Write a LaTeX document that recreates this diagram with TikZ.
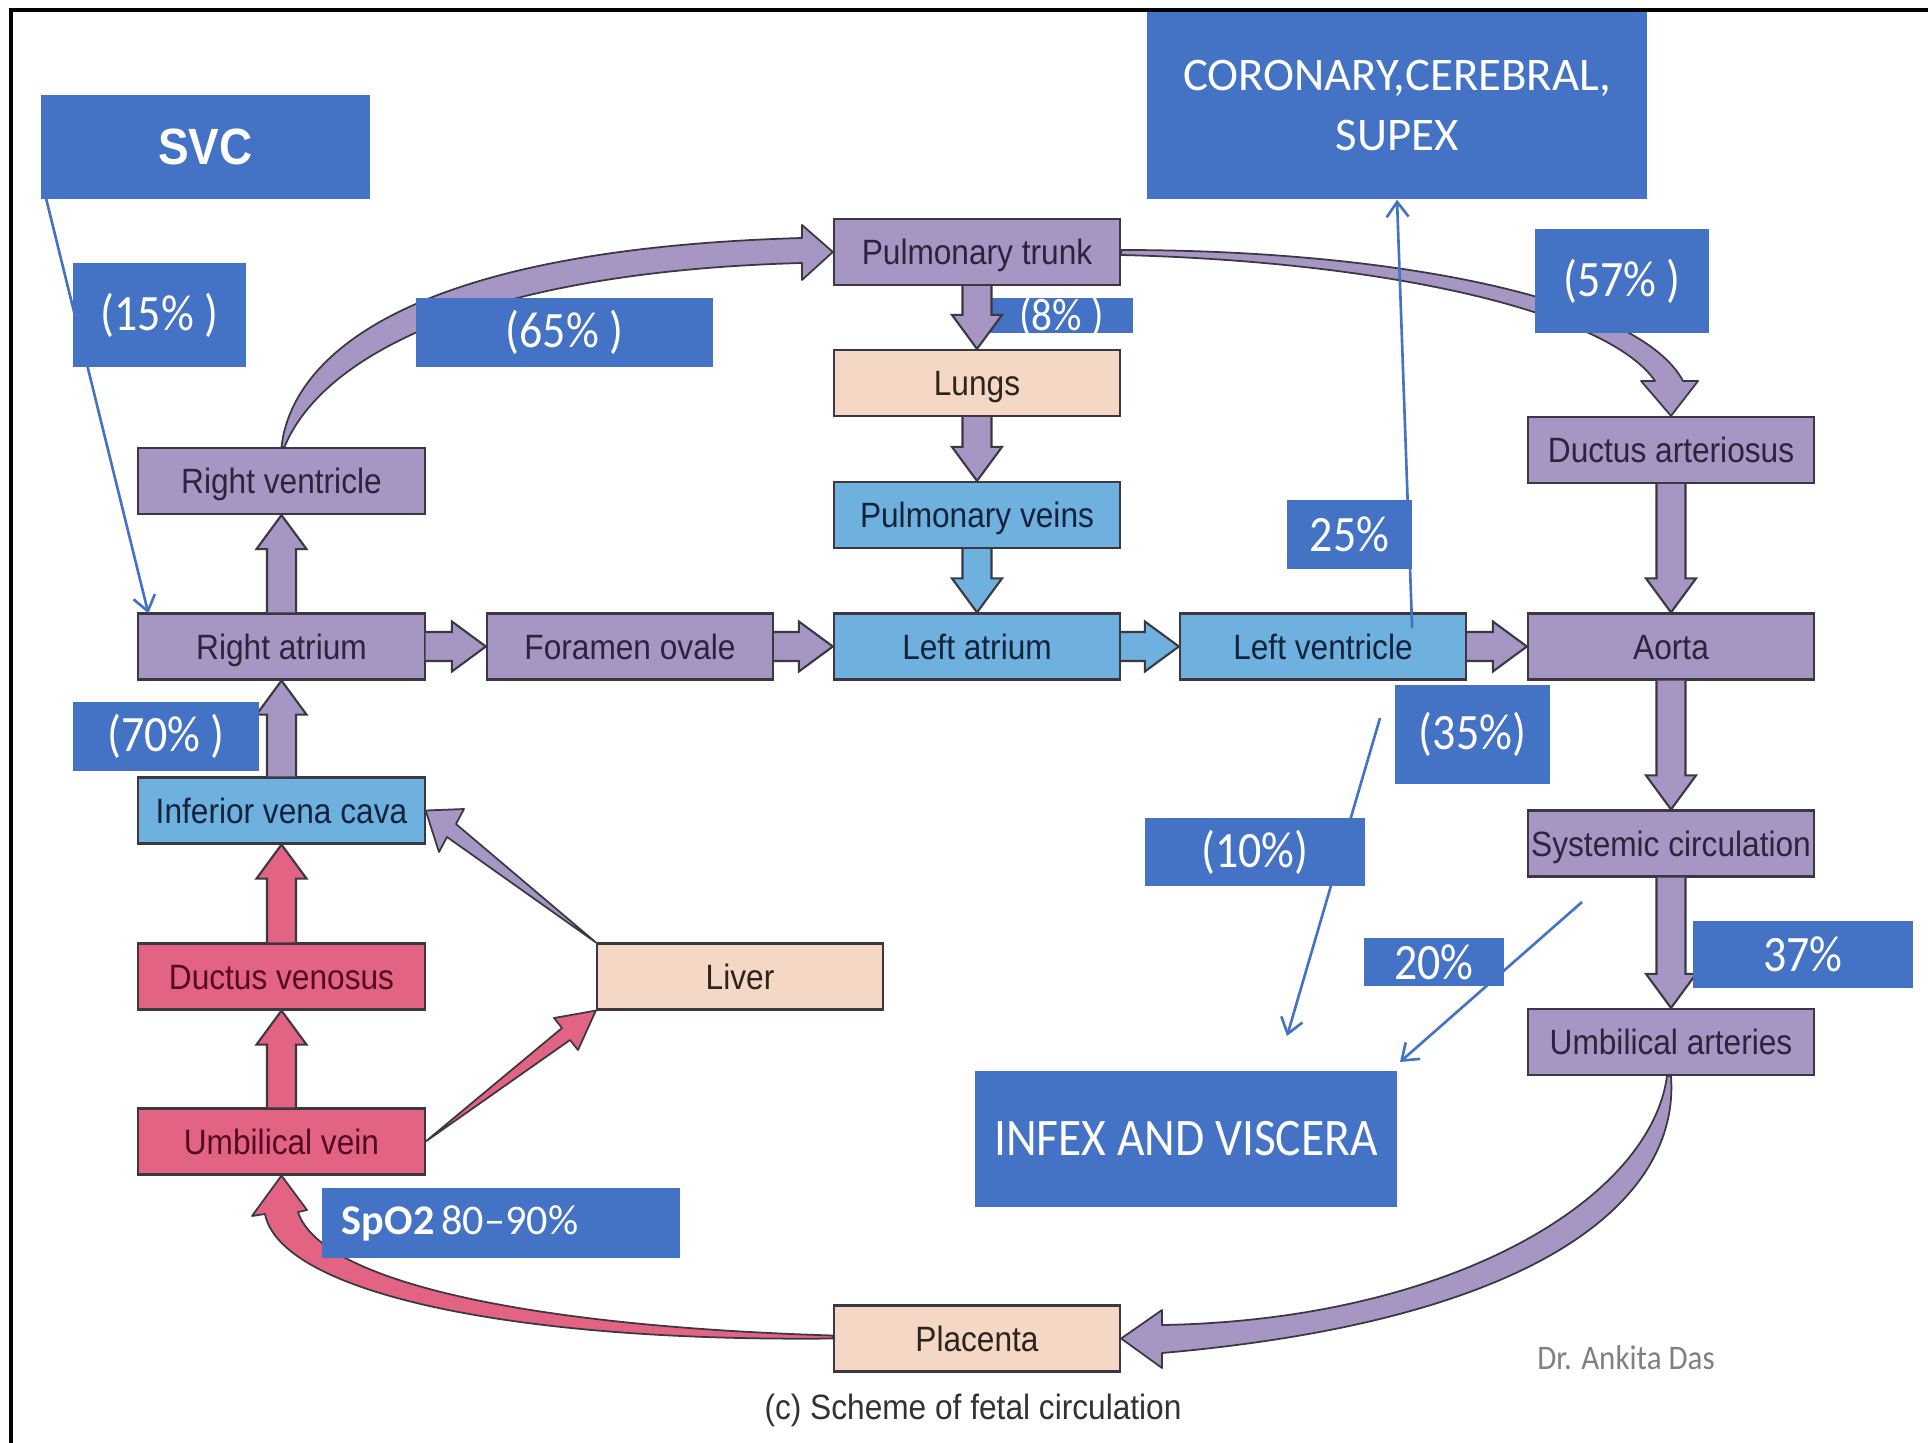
\documentclass[tikz,border=0pt]{standalone}
\usepackage{fontspec}
\usetikzlibrary{calc,arrows.meta}
\setmainfont{Liberation Sans}
\newfontfamily\nodefont[FakeStretch=0.9]{Liberation Sans}
\newfontfamily\labfont[FakeStretch=0.9]{Carlito}
\newfontfamily\labfontw{Carlito}
\definecolor{purp}{RGB}{166,150,196}
\definecolor{bluen}{RGB}{110,177,222}
\definecolor{pinkn}{RGB}{226,100,130}
\definecolor{peach}{RGB}{244,215,197}
\definecolor{labblue}{RGB}{68,114,196}
\definecolor{bord}{RGB}{60,55,65}
\definecolor{ptext}{RGB}{45,35,60}
\definecolor{btext}{RGB}{20,35,60}
\definecolor{rtext}{RGB}{85,10,35}
\definecolor{otext}{RGB}{45,35,30}
\definecolor{captext}{RGB}{50,50,50}
\definecolor{wmgray}{RGB}{128,128,128}
\def\bsw{0.145cm}\def\bhw{0.25cm}\def\bhl{0.34cm}
\newcommand{\arrowup}[3]{\draw[blk,fill=#3] let \p1=(#1.north), \p2=(#2.south) in
  ({\x1-\bsw},\y1) -- ({\x1-\bsw},{\y2-\bhl}) -- ({\x1-\bhw},{\y2-\bhl}) -- (\x1,\y2)
  -- ({\x1+\bhw},{\y2-\bhl}) -- ({\x1+\bsw},{\y2-\bhl}) -- ({\x1+\bsw},\y1);}
\newcommand{\arrowdown}[3]{\draw[blk,fill=#3] let \p1=(#1.south), \p2=(#2.north) in
  ({\x1-\bsw},\y1) -- ({\x1-\bsw},{\y2+\bhl}) -- ({\x1-\bhw},{\y2+\bhl}) -- (\x1,\y2)
  -- ({\x1+\bhw},{\y2+\bhl}) -- ({\x1+\bsw},{\y2+\bhl}) -- ({\x1+\bsw},\y1);}
\newcommand{\arrowright}[3]{\draw[blk,fill=#3] let \p1=(#1.east), \p2=(#2.west) in
  (\x1,{\y1+\bsw}) -- ({\x2-\bhl},{\y1+\bsw}) -- ({\x2-\bhl},{\y1+\bhw}) -- (\x2,\y1)
  -- ({\x2-\bhl},{\y1-\bhw}) -- ({\x2-\bhl},{\y1-\bsw}) -- (\x1,{\y1-\bsw});}
\tikzset{
  box/.style={draw=bord, line width=0.6pt, minimum width=2.86cm, minimum height=0.66cm,
    inner sep=0pt, text height=7.2pt, text depth=0pt, font=\nodefont\fontsize{10}{12}\selectfont},
  pbox/.style={box, fill=purp, text=ptext},
  bbox/.style={box, fill=bluen, text=btext},
  rbox/.style={box, fill=pinkn, text=rtext},
  obox/.style={box, fill=peach, text=otext},
  lab/.style={fill=labblue, text=white, inner sep=0pt, font=\labfont\fontsize{14.5}{17}\selectfont},
  blk/.style={draw=bord, line width=0.6pt},
  tap/.style={draw=bord, line width=0.5pt, line join=round},
  thinl/.style={draw=labblue, line width=0.75pt, -{Straight Barb[length=0.15cm,width=0.22cm]}},
}
\begin{document}
\begin{tikzpicture}[x=0.01cm, y=-0.01cm]
\useasboundingbox (0,0) rectangle (1928,1443);

% main nodes
\node[pbox] (rv) at (281.5,481) {Right ventricle};
\node[pbox] (ra) at (281.5,646.5) {Right atrium};
\node[pbox] (fo) at (630,646.5) {Foramen ovale};
\node[bbox] (la) at (977,646.5) {Left atrium};
\node[bbox] (lv) at (1323,646.5) {Left ventricle};
\node[pbox] (ao) at (1671,646.5) {Aorta};
\node[pbox] (pt) at (977,252) {Pulmonary trunk};
\node[obox] (lu) at (977,383) {Lungs};
\node[bbox] (pv) at (977,515) {Pulmonary veins};
\node[pbox] (da) at (1671,450) {Ductus arteriosus};
\node[bbox] (ivc) at (281.5,810.5) {Inferior vena cava};
\node[pbox] (sc) at (1671,843.5) {Systemic circulation};
\node[rbox] (dv) at (281.5,976.5) {Ductus venosus};
\node[obox] (li) at (740,976.5) {Liver};
\node[pbox] (ua) at (1671,1042) {Umbilical arteries};
\node[rbox] (uv) at (281.5,1141.5) {Umbilical vein};
\node[obox] (pl) at (977,1338.5) {Placenta};

% label under the lung arrow
\node[lab, minimum width=1.43cm, minimum height=0.35cm, text height=0.32cm, text depth=0.03cm,
  font=\labfont\fontsize{13}{14}\selectfont] (l8) at (1061.5,315.5) {(8\% )};

% block arrows
\arrowup{ra}{rv}{purp}
\arrowup{ivc}{ra}{purp}
\arrowup{dv}{ivc}{pinkn}
\arrowup{uv}{dv}{pinkn}
\arrowdown{pt}{lu}{purp}
\arrowdown{lu}{pv}{purp}
\arrowdown{pv}{la}{bluen}
\arrowdown{da}{ao}{purp}
\arrowdown{ao}{sc}{purp}
\arrowdown{sc}{ua}{purp}
\arrowright{ra}{fo}{purp}
\arrowright{fo}{la}{purp}
\arrowright{la}{lv}{bluen}
\arrowright{lv}{ao}{purp}

% tapered straight arrows
\draw[tap, fill=pinkn] (uv.east) -- (562,1028) -- (554,1018) -- (li.south west) -- (578,1050) -- (570,1040) -- cycle;
\draw[tap, fill=purp] (li.north west) -- (456,824) -- (464,809) -- (ivc.east) -- (439,852) -- (447,837) -- cycle;

% curved tapered arrows
\draw[tap, fill=purp] (rv.north) .. controls (290,370) and (380,250) .. (802,238)
  -- (802,225) -- (pt.west) -- (802,280) -- (802,263)
  .. controls (470,272) and (320,360) .. ($(rv.north)+(3,0)$) -- cycle;
\draw[tap, fill=purp] ($(pt.east)+(0,-2)$) .. controls (1400,250) and (1640,300) .. (1683,381)
  -- (1698,381) -- (da.north) -- (1641,381) -- (1655,381)
  .. controls (1610,315) and (1400,262) .. ($(pt.east)+(0,3)$) -- cycle;
\draw[tap, fill=purp] (ua.south) .. controls (1680,1200) and (1540,1320) .. (1162,1353)
  -- (1162,1368) -- (pl.east) -- (1162,1310) -- (1162,1325)
  .. controls (1450,1320) and (1650,1200) .. ($(ua.south)+(-4,0)$) -- cycle;
\draw[tap, fill=pinkn] (pl.west) .. controls (500,1342) and (280,1290) .. (265,1214)
  -- (252,1216) -- (uv.south) -- (307,1210) -- (298,1212)
  .. controls (320,1280) and (520,1326) .. ($(pl.west)+(0,-3)$) -- cycle;

% big label boxes that lines touch
\node[lab, minimum width=3.29cm, minimum height=1.04cm,
  font=\nodefont\bfseries\fontsize{14.5}{17}\selectfont] (svc) at (205.5,147) {SVC};
\node[lab, minimum width=5.00cm, minimum height=1.87cm, align=center,
  font=\labfontw\fontsize{13.3}{17}\selectfont] (cor) at (1397,105.5) {CORONARY,CEREBRAL,\\SUPEX};
\node[lab, minimum width=4.22cm, minimum height=1.36cm,
  font=\labfont\fontsize{15}{18}\selectfont] (inf) at (1186,1139) {INFEX AND VISCERA};

% thin blue pointer lines
\draw[thinl] ($(svc.south west)+(2,-17)$) -- ($(ra.north west)+(11,1)$);
\draw[thinl] ($(lv.north east)+(-55,16)$) -- (cor.south);
\coordinate (a10) at (1380,718);
\coordinate (b10) at (1287,1036);
\draw[thinl] (a10) -- (b10);
\coordinate (a20) at (1582,902);
\coordinate (b20) at (1400,1062);
\draw[thinl] (a20) -- (b20);

% percentage labels
\node[lab, minimum width=1.73cm, minimum height=1.04cm] (l15) at (159.5,315) {(15\% )};
\node[lab, minimum width=2.97cm, minimum height=0.69cm] (l65) at (564.5,332.5) {(65\% )};
\node[lab, minimum width=1.74cm, minimum height=1.04cm] (l57) at (1622,281) {(57\% )};
\node[lab, minimum width=1.25cm, minimum height=0.69cm] (l25) at (1349.5,534.5) {25\%};
\node[lab, minimum width=1.55cm, minimum height=0.99cm] (l35) at (1472.5,734.5) {(35\%)};
\node[lab, minimum width=1.86cm, minimum height=0.69cm] (l70) at (166,736.5) {(70\% )};
\node[lab, minimum width=2.20cm, minimum height=0.68cm] (l10) at (1255,852) {(10\%)};
\node[lab, minimum width=1.40cm, minimum height=0.48cm] (l20) at (1434,962) {20\%};
\node[lab, minimum width=2.20cm, minimum height=0.67cm] (l37) at (1803,954.5) {37\%};
\node[lab, minimum width=3.58cm, minimum height=0.70cm, text width=3.18cm, inner xsep=0.2cm,
  align=left, font=\labfontw\fontsize{12}{14}\selectfont] (spo) at (501,1223) {\textbf{SpO2}\,80–90\%};

% caption and signature
\node[font=\nodefont\fontsize{10}{12}\selectfont, text=captext] (cap) at (973,1410) {(c) Scheme of fetal circulation};
\node[font=\labfont\fontsize{9.8}{11}\selectfont, text=wmgray] (wm) at (1626,1358) {Dr. Ankita Das};

% frame
\draw[line width=1.1pt] (11,1443) -- (11,10) -- (1928,10);
\end{tikzpicture}
\end{document}
